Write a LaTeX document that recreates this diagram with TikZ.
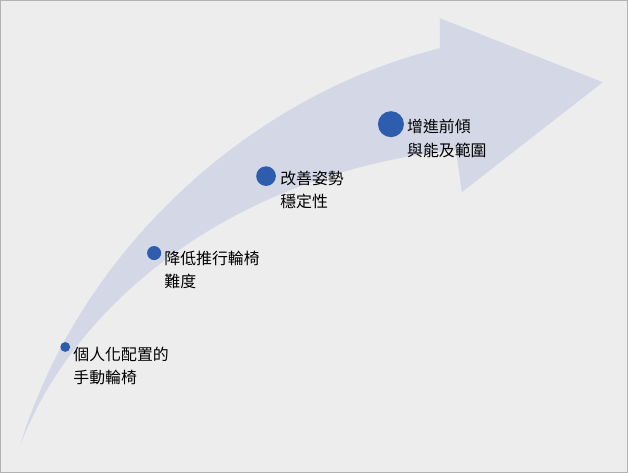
\documentclass[tikz,border=0pt]{standalone}
\usepackage{fontspec}
\newfontfamily\cjk{Noto Sans CJK TC}
\definecolor{bgGray}{HTML}{EDEDED}
\definecolor{arrowFill}{HTML}{D3D7E6}
\definecolor{dotBlue}{HTML}{2F5DAE}
\tikzset{
	dot/.style={circle, fill=dotBlue, inner sep=0pt},
	label/.style={anchor=north west, align=left, font=\cjk\fontsize{11.3}{16.5}\selectfont, inner sep=0pt}
}
\begin{document}
\begin{tikzpicture}[x=0.025cm, y=-0.025cm]
	% Background
	\draw [fill=bgGray, draw=gray!60] (0,0) rectangle (628,472);
	% Arrow
	\fill [arrowFill] (20,445) .. controls (80,250) and (250,95) .. (440,48) -- (440,18) -- (603,82) -- (462,192) -- (456,150) .. controls (250,170) and (80,290) .. (20,445) -- cycle;
	% Steps
	\node [dot, minimum size=7pt] (d1) at (65,347) {};
	\node [label] (t1) at (73,347) {個人化配置的\\手動輪椅};
	\node [dot, minimum size=10pt] (d2) at (154,253) {};
	\node [label] (t2) at (164,251) {降低推行輪椅\\難度};
	\node [dot, minimum size=14pt] (d3) at (266,176) {};
	\node [label] (t3) at (280,171) {改善姿勢\\穩定性};
	\node [dot, minimum size=18.5pt] (d4) at (391,124) {};
	\node [label] (t4) at (407,119) {增進前傾\\與能及範圍};
\end{tikzpicture}
\end{document}
